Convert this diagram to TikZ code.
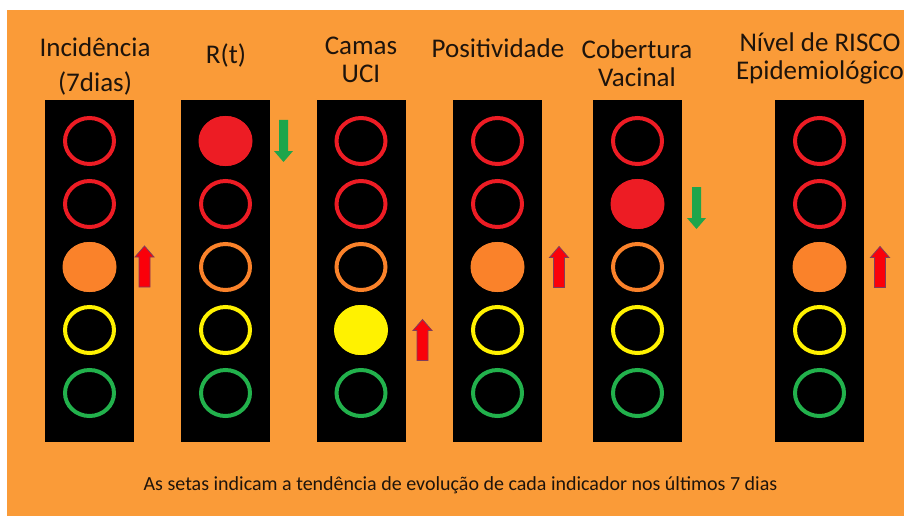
\documentclass[tikz,border=0pt]{standalone}
\usepackage{fontspec}
\setmainfont{Carlito}
\usetikzlibrary{shapes.geometric}

\definecolor{panel}{RGB}{250,155,56}
\definecolor{ink}{RGB}{30,20,12}
\definecolor{lampred}{RGB}{237,28,36}
\definecolor{lamporange}{RGB}{250,130,42}
\definecolor{lampyellow}{RGB}{255,242,0}
\definecolor{lampgreen}{RGB}{34,177,76}
\definecolor{arrowred}{RGB}{250,0,10}
\definecolor{arrowedge}{RGB}{130,60,90}
\definecolor{arrowgreen}{RGB}{30,165,75}

\tikzset{
  pics/trend up/.style={code={
    \path[pic actions] (-5.5,20.5) -- (-5.5,-9.5) -- (-9.5,-9.5) -- (0,-20.5)
      -- (9.5,-9.5) -- (5.5,-9.5) -- (5.5,20.5) -- cycle;}},
  pics/trend down/.style={code={
    \path[pic actions] (-4.5,-21) -- (-4.5,10) -- (-9.5,10) -- (0,21)
      -- (9.5,10) -- (4.5,10) -- (4.5,-21) -- cycle;}},
}

\begin{document}
\begin{tikzpicture}[x=1pt,y=-1pt,
    lightbox/.style={fill=black, minimum width=89pt, minimum height=342pt, inner sep=0pt},
    ring/.style={ellipse, draw=#1, line width=4pt, minimum width=49pt, minimum height=46pt, inner sep=0pt},
    lampon/.style={ellipse, fill=#1, minimum width=54pt, minimum height=50pt, inner sep=0pt},
    heading/.style={font=\fontsize{27}{28}\selectfont, text=ink, align=center, anchor=base, inner sep=0pt},
    riseup/.style={fill=arrowred, draw=arrowedge, line width=0.8pt},
    falldown/.style={fill=arrowgreen}]

    % Background
    \useasboundingbox (0,0) rectangle (904,516);
    \fill[white] (0,0) rectangle (904,516);
    \fill[panel] (7,10) rectangle (904,516);

    % Headings (base = last line)
    \node[heading] (hinc) at (95,92) {Incidência\\[7pt](7dias)};
    \node[heading] (hrt) at (226,64) {R(t)};
    \node[heading] (huci) at (361,83) {Camas\\UCI};
    \node[heading] (hpos) at (498,58) {Positividade};
    \node[heading] (hvac) at (637,87) {Cobertura\\Vacinal};
    \node[heading] (hrisk) at (820,80) {Nível de RISCO\\Epidemiológico};

    % Traffic lights
    \foreach \bx/\bn in {89.5/1, 225.5/2, 361/3, 497.5/4, 637.5/5, 819.5/6} {
        \node[lightbox] (box\bn) at (\bx,271) {};
        \foreach \ry/\rc/\rn in {141/lampred/1, 204/lampred/2, 267/lamporange/3,
                                 330/lampyellow/4, 393/lampgreen/5} {
            \node[ring=\rc] (lamp\bn-\rn) at (\bx,\ry) {};
        }
    }

    % Lamps that are on
    \node[lampon=lamporange] (on1) at (lamp1-3) {};
    \node[lampon=lampred] (on2) at (lamp2-1) {};
    \node[lampon=lampyellow] (on3) at (lamp3-4) {};
    \node[lampon=lamporange] (on4) at (lamp4-3) {};
    \node[lampon=lampred] (on5) at (lamp5-2) {};
    \node[lampon=lamporange] (on6) at (lamp6-3) {};

    % Trend arrows
    \pic[riseup] at (144.5,266.5) {trend up};
    \pic[falldown] at (283.5,141) {trend down};
    \pic[riseup] at (422.5,340) {trend up};
    \pic[riseup] at (559,267) {trend up};
    \pic[falldown] at (696.5,208) {trend down};
    \pic[riseup] at (880,267) {trend up};

    % Caption
    \node[heading, font=\fontsize{20}{24}\selectfont] (note) at (460.5,490)
        {As setas indicam a tendência de evolução de cada indicador nos últimos 7 dias};
\end{tikzpicture}
\end{document}
